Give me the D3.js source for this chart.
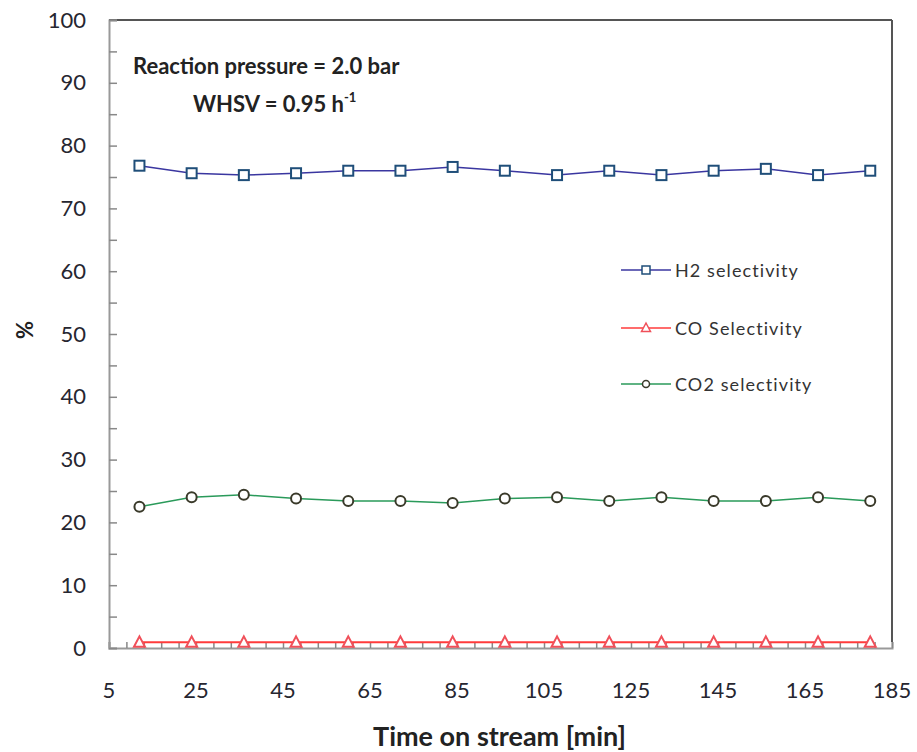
<!DOCTYPE html>
<html>
<head>
<meta charset="utf-8">
<script src="https://cdn.jsdelivr.net/npm/d3@7"></script>
<style>
  body { margin: 0; background: #fff; }
  text { font-family: Lato, "Open Sans", sans-serif; }
</style>
</head>
<body>
<svg id="chart"></svg>
<script>
// chart values
const times = [12, 24, 36, 48, 60, 72, 84, 96, 108, 120, 132, 144, 156, 168, 180];
const h2_sel = [76.8, 75.6, 75.3, 75.6, 76.0, 76.0, 76.6, 76.0, 75.3, 76.0, 75.3, 76.0, 76.3, 75.3, 76.0];
const co_sel = [0.9, 0.9, 0.9, 0.9, 0.9, 0.9, 0.9, 0.9, 0.9, 0.9, 0.9, 0.9, 0.9, 0.9, 0.9];
const co2_sel = [22.5, 24.0, 24.4, 23.8, 23.4, 23.4, 23.1, 23.8, 24.0, 23.4, 24.0, 23.4, 23.4, 24.0, 23.4];
const x_ticks = [5, 25, 45, 65, 85, 105, 125, 145, 165, 185];
const y_ticks = [0, 10, 20, 30, 40, 50, 60, 70, 80, 90, 100];
const series_names = ['H2 selectivity', 'CO Selectivity', 'CO2 selectivity'];

const width = 917;
const height = 752;
const plot_left = 109, plot_right = 892, plot_top = 20, plot_bottom = 648;

const svg = d3.select('#chart')
  .attr('width', width)
  .attr('height', height);

const x = d3.scaleLinear().domain([5, 185]).range([plot_left, plot_right]);
const y = d3.scaleLinear().domain([0, 100]).range([plot_bottom, plot_top]);

// frame: top + right dark, left/bottom gray
svg.append('line')
  .attr('x1', plot_left).attr('x2', plot_right).attr('y1', plot_top).attr('y2', plot_top)
  .attr('stroke', '#555').attr('stroke-width', 2);
svg.append('line')
  .attr('x1', plot_right).attr('x2', plot_right).attr('y1', plot_top).attr('y2', plot_bottom - 6)
  .attr('stroke', '#555').attr('stroke-width', 2);

// minor ticks (every 4 min / every 5 %), drawn inward
const x_minor = d3.range(5, 185.1, 4);
const y_minor = d3.range(0, 100.1, 5);

const xAxis = svg.append('g')
  .attr('transform', `translate(0,${plot_bottom})`)
  .call(d3.axisBottom(x).tickValues(x_minor).tickSize(-6).tickFormat(''));
const yAxis = svg.append('g')
  .attr('transform', `translate(${plot_left},0)`)
  .call(d3.axisLeft(y).tickValues(y_minor).tickSize(-8).tickFormat(''));

[xAxis, yAxis].forEach((g) => {
  g.select('.domain').attr('stroke', '#999').attr('stroke-width', 2);
  g.selectAll('.tick line').attr('stroke', '#888').attr('stroke-width', 1.5);
});

// tick labels
svg.selectAll('.xlab')
  .data(x_ticks)
  .enter().append('text')
  .attr('x', (d) => x(d))
  .attr('y', 698)
  .attr('text-anchor', 'middle')
  .attr('font-size', 22)
  .attr('fill', '#262630')
  .text((d) => d);

svg.selectAll('.ylab')
  .data(y_ticks)
  .enter().append('text')
  .attr('x', 86)
  .attr('y', (d) => y(d) + 7.5)
  .attr('text-anchor', 'end')
  .attr('font-size', 22)
  .attr('fill', '#262630')
  .text((d) => d);

// axis titles
svg.append('text')
  .attr('x', (plot_left + plot_right) / 2 - 1)
  .attr('y', 746)
  .attr('text-anchor', 'middle')
  .attr('font-size', 27)
  .attr('font-weight', 'bold')
  .attr('fill', '#222')
  .text('Time on stream [min]');

svg.append('text')
  .attr('transform', 'translate(33,330) rotate(-90)')
  .attr('text-anchor', 'middle')
  .attr('font-size', 22)
  .attr('font-weight', 'bold')
  .attr('fill', '#222')
  .text('%');

// annotation
svg.append('text')
  .attr('x', 133).attr('y', 74)
  .attr('font-size', 22).attr('font-weight', 'bold').attr('fill', '#222')
  .text('Reaction pressure = 2.0 bar');
const whsv = svg.append('text')
  .attr('x', 193).attr('y', 112)
  .attr('font-size', 22).attr('font-weight', 'bold').attr('fill', '#222')
  .text('WHSV = 0.95 h');
whsv.append('tspan')
  .attr('dy', -10).attr('font-size', 13)
  .text('-1');

// series
const series = [
  { name: series_names[0], values: h2_sel, line: '#3a36a0', marker: '#1f4e79', shape: 'square' },
  { name: series_names[1], values: co_sel, line: '#ff3b3b', marker: '#f0505a', shape: 'triangle' },
  { name: series_names[2], values: co2_sel, line: '#2a9a5a', marker: '#3a3a2a', shape: 'circle' },
];

const line = d3.line()
  .x((d) => x(d.t))
  .y((d) => y(d.v));

function drawMarker(g, shape, color) {
  if (shape === 'square') {
    g.append('rect').attr('x', -5).attr('y', -5).attr('width', 10).attr('height', 10)
      .attr('fill', '#fff').attr('stroke', color).attr('stroke-width', 2);
  } else if (shape === 'triangle') {
    g.append('path').attr('d', 'M0,-6L5.5,4.5L-5.5,4.5Z')
      .attr('fill', '#fff').attr('stroke', color).attr('stroke-width', 2);
  } else {
    g.append('circle').attr('r', 5)
      .attr('fill', '#fff').attr('stroke', color).attr('stroke-width', 2);
  }
}

series.forEach((s) => {
  const pts = times.map((t, i) => ({ t: t, v: s.values[i] }));
  svg.append('path')
    .datum(pts)
    .attr('d', line)
    .attr('fill', 'none')
    .attr('stroke', s.line)
    .attr('stroke-width', s.shape === 'triangle' ? 2 : 1.5);
  svg.selectAll(null)
    .data(pts)
    .enter().append('g')
    .attr('transform', (d) => `translate(${x(d.t)},${y(d.v)})`)
    .each(function () { drawMarker(d3.select(this), s.shape, s.marker); });
});

// legend
const legend_y = [270, 328, 384];
series.forEach((s, i) => {
  const g = svg.append('g').attr('transform', `translate(621,${legend_y[i]})`);
  g.append('line').attr('x1', 0).attr('x2', 50).attr('y1', 0).attr('y2', 0)
    .attr('stroke', s.line).attr('stroke-width', 1.5);
  const m = g.append('g').attr('transform', 'translate(25,0)');
  if (s.shape === 'circle') {
    m.append('circle').attr('r', 3.5).attr('fill', '#fff').attr('stroke', s.marker).attr('stroke-width', 1.5);
  } else if (s.shape === 'square') {
    m.append('rect').attr('x', -4).attr('y', -4).attr('width', 8).attr('height', 8)
      .attr('fill', '#fff').attr('stroke', s.marker).attr('stroke-width', 1.5);
  } else {
    m.append('path').attr('d', 'M0,-5L4.5,3.5L-4.5,3.5Z')
      .attr('fill', '#fff').attr('stroke', s.marker).attr('stroke-width', 1.5);
  }
  g.append('text')
    .attr('x', 54).attr('y', 7)
    .attr('font-size', 18).attr('fill', '#333')
    .attr('letter-spacing', 1.1)
    .text(s.name);
});
</script>
</body>
</html>
